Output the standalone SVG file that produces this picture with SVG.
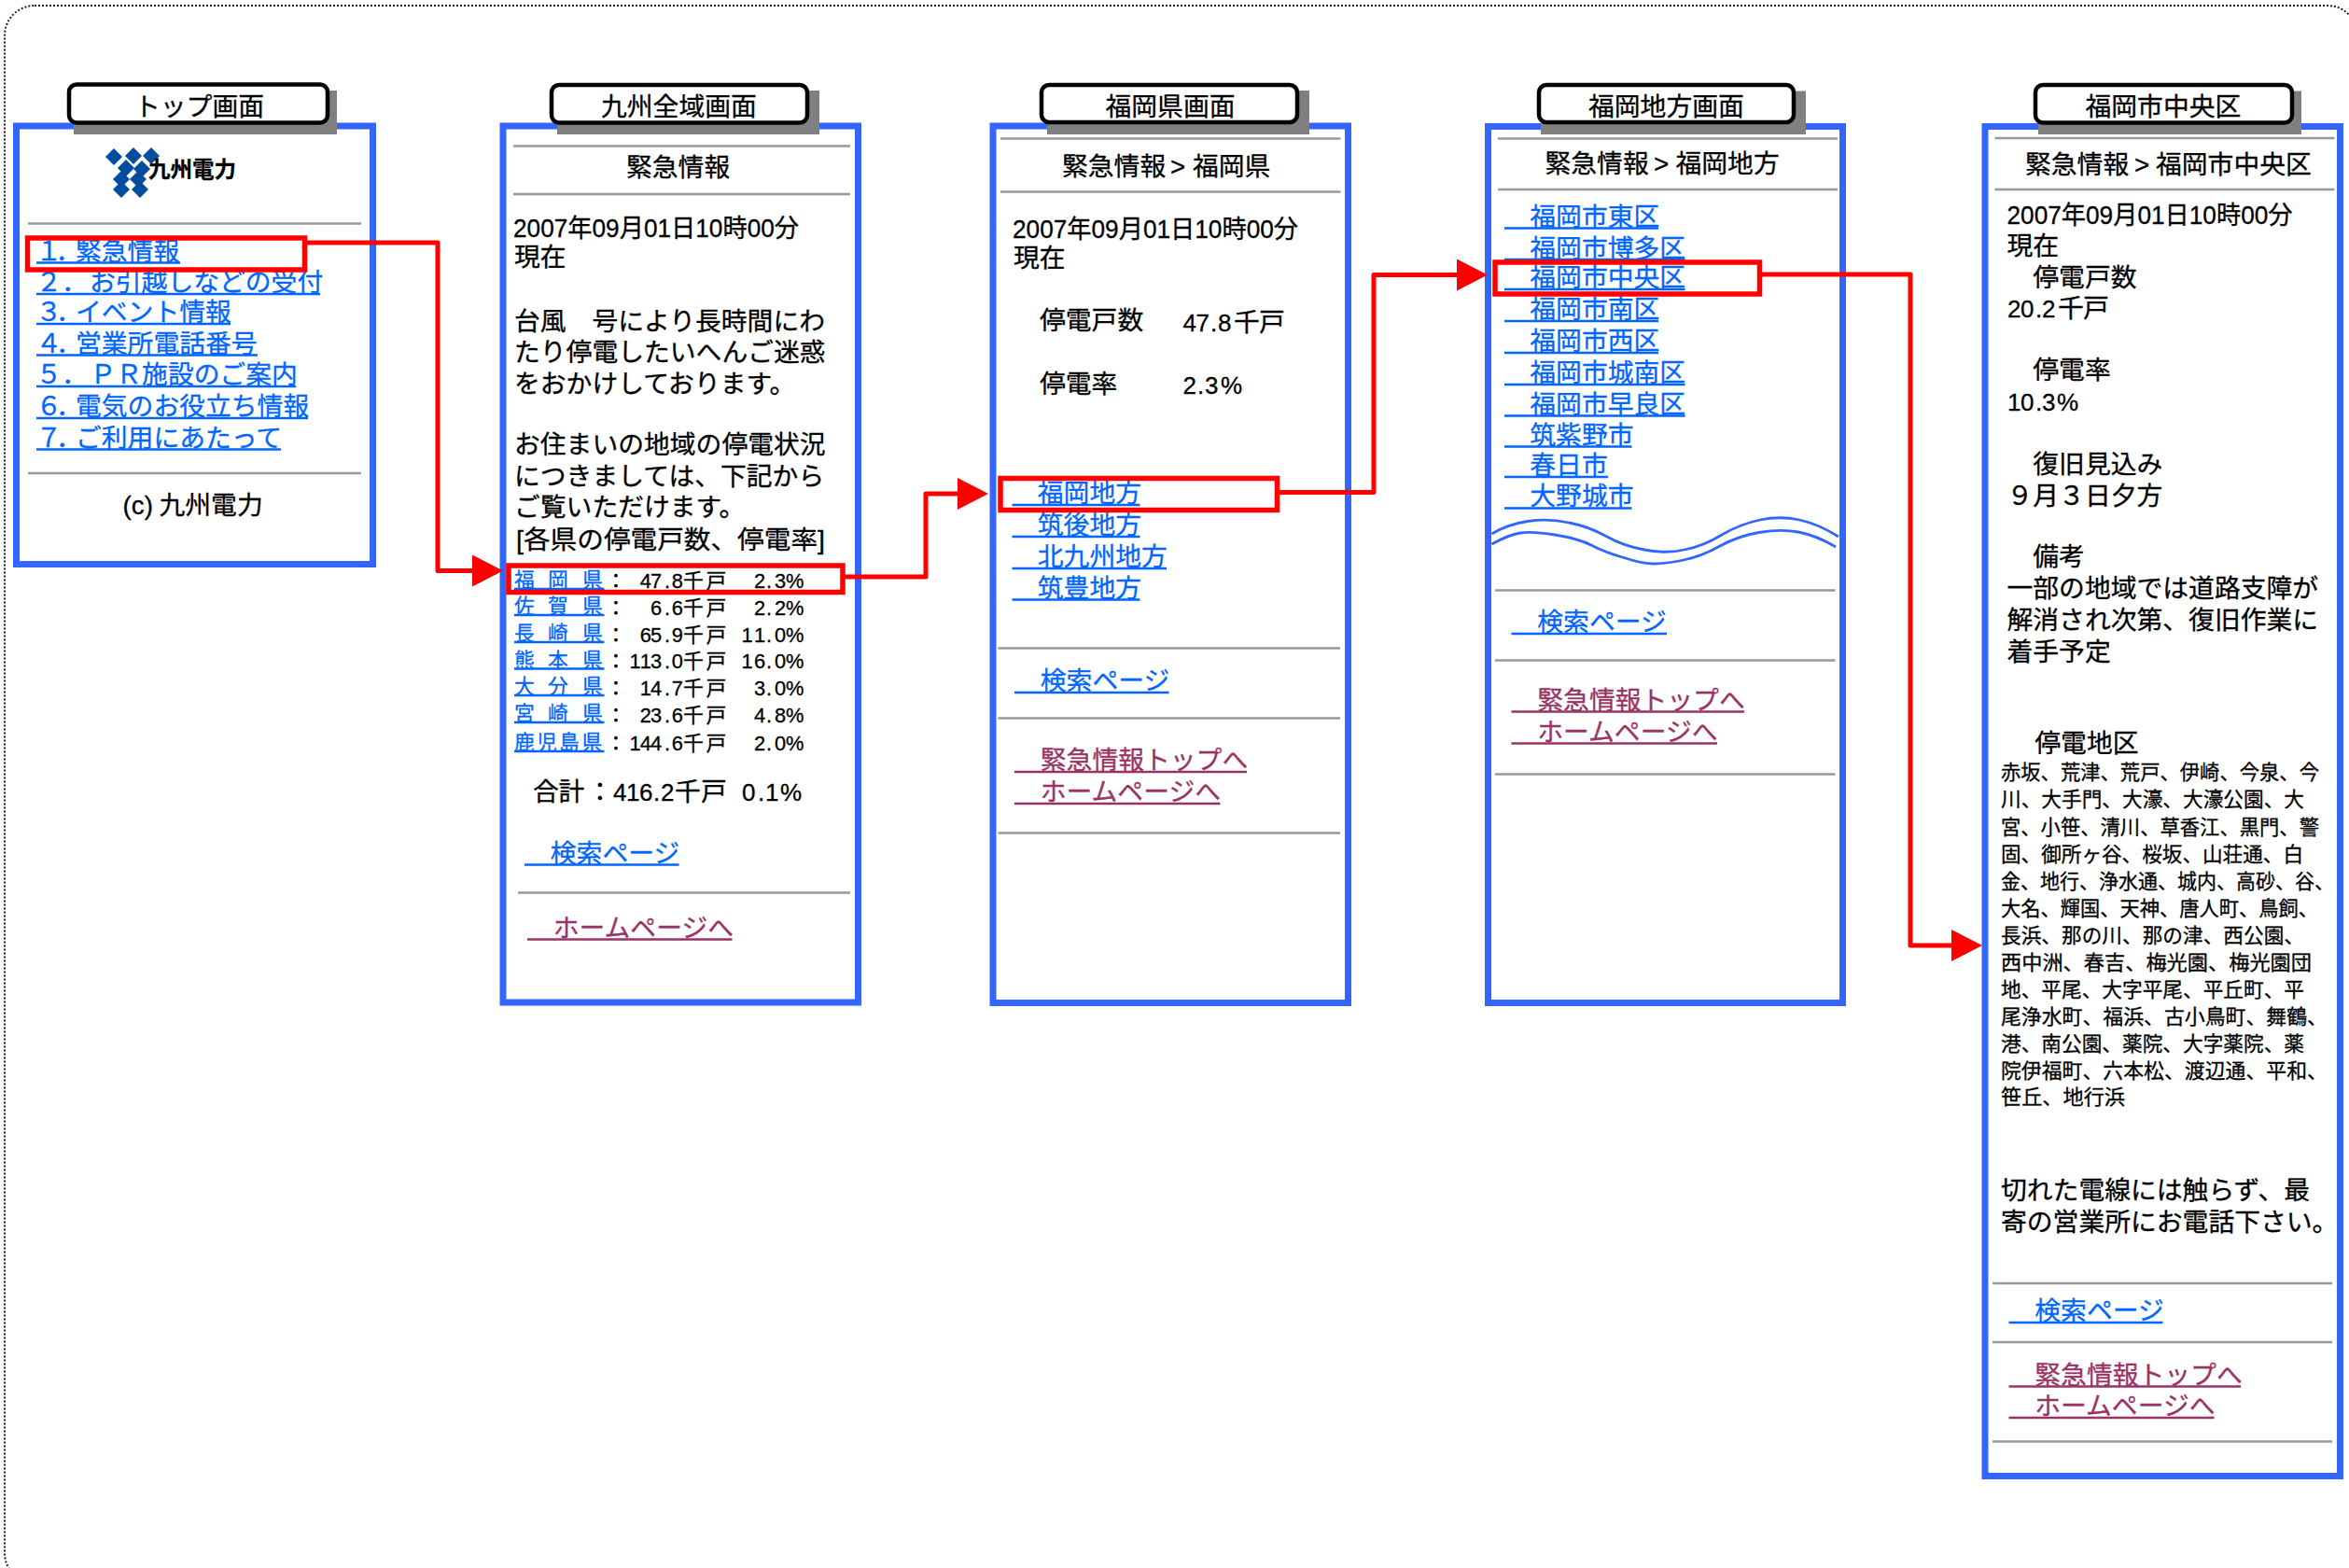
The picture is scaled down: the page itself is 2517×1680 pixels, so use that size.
<svg xmlns="http://www.w3.org/2000/svg" width="2517" height="1680" viewBox="0 0 2517 1680">
<style>
text{font-family:"Liberation Sans","Noto Sans CJK JP",sans-serif;font-size:27.8px;fill:#000;stroke:#000;stroke-width:.3}
.lnk{fill:#0066ff;stroke:#0066ff}
.vis{fill:#993366;stroke:#993366}
.s22{font-size:21.8px}
.s25{font-size:26px}
.b{font-weight:bold;font-size:23.5px}
.panel{fill:#fff;stroke:#3366ff;stroke-width:7}
.shadow{fill:#808080}
.title{fill:#fff;stroke:#000;stroke-width:4.5}
.hr{stroke:#999;stroke-width:2.5}
.ul{stroke:#0066ff;stroke-width:2.3}
.ulv{stroke:#993366;stroke-width:2.3}
.wave{fill:none;stroke:#3366ff;stroke-width:2.8;stroke-linejoin:round}
.hl{fill:none;stroke:#ff0000;stroke-width:5.5}
.conn{fill:none;stroke:#ff0000;stroke-width:5;stroke-linejoin:round;marker-end:url(#arrow)}
.logo{fill:#004c9f}
</style>
<defs>
<marker id="arrow" markerUnits="userSpaceOnUse" markerWidth="34" markerHeight="34" refX="0" refY="17" orient="auto">
<path d="M0,0 L33,17 L0,34 Z" fill="#ff0000"/>
</marker>
</defs>
<rect id="frame" x="5" y="6" width="2521" height="1690" rx="32" fill="#fff" stroke="#222" stroke-width="2" stroke-dasharray="2 2"/>

<g id="panel-top">
<rect class="panel" x="17.5" y="135" width="382" height="469.5"/>
<rect class="shadow" x="79" y="97" width="282" height="47"/>
<rect class="title" x="74" y="90.5" width="277" height="41" rx="8"/>
<text x="144" y="124" textLength="139" lengthAdjust="spacingAndGlyphs">トップ画面</text>
<polygon class="logo" points="122,159 131,168 122,177 113,168"/>
<polygon class="logo" points="143,158 152,167 143,176 134,167"/>
<polygon class="logo" points="162,158 171,167 162,176 153,167"/>
<polygon class="logo" points="135,171 144,180 135,189 126,180"/>
<polygon class="logo" points="152,172 161,181 152,190 143,181"/>
<polygon class="logo" points="130,183 139,192 130,201 121,192"/>
<polygon class="logo" points="148,183 157,192 148,201 139,192"/>
<polygon class="logo" points="130,194 139,203 130,212 121,203"/>
<polygon class="logo" points="150,194 159,203 150,212 141,203"/>
<text class="b" x="159" y="190">九州電力</text>
<line class="hr" x1="30" y1="239.5" x2="387" y2="239.5"/>
<text class="lnk" y="278.5"><tspan x="38.5">１</tspan><tspan x="59.5">．</tspan><tspan x="81">緊急情報</tspan></text>
<text class="lnk" y="312"><tspan x="38.5">２</tspan><tspan x="66">．</tspan><tspan x="96">お引越しなどの受付</tspan></text>
<text class="lnk" y="344"><tspan x="38.5">３</tspan><tspan x="60">．</tspan><tspan x="81">イベント情報</tspan></text>
<text class="lnk" y="377.5"><tspan x="38.5">４</tspan><tspan x="60">．</tspan><tspan x="81">営業所電話番号</tspan></text>
<text class="lnk" y="411"><tspan x="38.5">５</tspan><tspan x="66">．</tspan><tspan x="96.5">ＰＲ施設のご案内</tspan></text>
<text class="lnk" y="445"><tspan x="38.5">６</tspan><tspan x="60">．</tspan><tspan x="81">電気のお役立ち情報</tspan></text>
<text class="lnk" y="478.5"><tspan x="38.5">７</tspan><tspan x="60">．</tspan><tspan x="81">ご利用にあたって</tspan></text>
<line class="ul" x1="39" y1="281.5" x2="193" y2="281.5"/>
<line class="ul" x1="39" y1="315" x2="343" y2="315"/>
<line class="ul" x1="39" y1="347" x2="247" y2="347"/>
<line class="ul" x1="39" y1="380.5" x2="276" y2="380.5"/>
<line class="ul" x1="39" y1="414" x2="317" y2="414"/>
<line class="ul" x1="39" y1="448" x2="330" y2="448"/>
<line class="ul" x1="39" y1="481.5" x2="301" y2="481.5"/>
<line class="hr" x1="30" y1="507" x2="387" y2="507"/>
<text y="551"><tspan x="131.5">(c)</tspan><tspan x="170.5">九州電力</tspan></text>
</g>

<g id="panel-kyushu">
<rect class="panel" x="539" y="135" width="380.5" height="939"/>
<rect class="shadow" x="597" y="97" width="281" height="47"/>
<rect class="title" x="591" y="91" width="274" height="40.5" rx="8"/>
<text x="644" y="123.5">九州全域画面</text>
<line class="hr" x1="550" y1="156.5" x2="911" y2="156.5"/>
<text x="671" y="188.5">緊急情報</text>
<line class="hr" x1="550" y1="208" x2="911" y2="208"/>
<text x="550" y="254" textLength="306" lengthAdjust="spacingAndGlyphs">2007年09月01日10時00分</text>
<text x="551" y="285">現在</text>
<text x="551" y="354">台風　号により長時間にわ</text>
<text x="551" y="387">たり停電したいへんご迷惑</text>
<text x="551" y="421">をおかけしております。</text>
<text x="551" y="486">お住まいの地域の停電状況</text>
<text x="551" y="519.5">につきましては、下記から</text>
<text x="551" y="553">ご覧いただけます。</text>
<text x="553" y="588" textLength="331" lengthAdjust="spacingAndGlyphs">[各県の停電戸数、停電率]</text>

<text class="lnk s22" y="629" x="551 573 587 609 624">福　岡　県</text>
<text class="lnk s22" y="657" x="551 573 587 609 624">佐　賀　県</text>
<text class="lnk s22" y="686" x="551 573 587 609 624">長　崎　県</text>
<text class="lnk s22" y="714.5" x="551 573 587 609 624">熊　本　県</text>
<text class="lnk s22" y="743" x="551 573 587 609 624">大　分　県</text>
<text class="lnk s22" y="772" x="551 573 587 609 624">宮　崎　県</text>
<text class="lnk s22" y="803" x="551 575 599 623.5">鹿児島県</text>
<line class="ul" x1="551" y1="631" x2="647.5" y2="631"/>
<line class="ul" x1="551" y1="659" x2="647.5" y2="659"/>
<line class="ul" x1="551" y1="688" x2="647.5" y2="688"/>
<line class="ul" x1="551" y1="716.5" x2="647.5" y2="716.5"/>
<line class="ul" x1="551" y1="745" x2="647.5" y2="745"/>
<line class="ul" x1="551" y1="774" x2="647.5" y2="774"/>
<line class="ul" x1="551" y1="805" x2="647.5" y2="805"/>
<text class="s22" y="630" x="649 685.8 697.1 712 719.7 732 756.5 790 808 821 830 842">：47.8千戸 2.3%</text>
<text class="s22" y="658.5" x="649 697.1 712 719.7 732 756.5 790 808 821 830 842">：6.6千戸 2.2%</text>
<text class="s22" y="687.5" x="649 685.8 697.1 712 719.7 732 756.5 785 794.5 808 821 830 842">：65.9千戸 11.0%</text>
<text class="s22" y="716" x="649 674.5 685.8 697.1 712 719.7 732 756.5 785 794.5 808 821 830 842">：113.0千戸 16.0%</text>
<text class="s22" y="744.5" x="649 685.8 697.1 712 719.7 732 756.5 790 808 821 830 842">：14.7千戸 3.0%</text>
<text class="s22" y="773.5" x="649 685.8 697.1 712 719.7 732 756.5 790 808 821 830 842">：23.6千戸 4.8%</text>
<text class="s22" y="804" x="649 674.5 685.8 697.1 712 719.7 732 756.5 790 808 821 830 842">：144.6千戸 2.0%</text>
<text y="858"><tspan x="571 598.5 629">合計：</tspan><tspan class="s25" x="657 671 685 700 708">416.2</tspan><tspan x="723 751">千戸</tspan><tspan class="s25" x="780 795 812 820 836"> 0.1%</tspan></text>
<text class="lnk" x="562" y="923.5">　検索ページ</text>
<line class="ul" x1="562" y1="926.5" x2="727.5" y2="926.5"/>
<line class="hr" x1="555" y1="956.5" x2="911" y2="956.5"/>
<text class="vis" x="565" y="1003.5">　ホームページへ</text>
<line class="ulv" x1="565" y1="1006.5" x2="784.5" y2="1006.5"/>
</g>

<g id="panel-fukuoka-pref">
<rect class="panel" x="1064" y="135" width="380.5" height="939.5"/>
<rect class="shadow" x="1122" y="97" width="281" height="47"/>
<rect class="title" x="1116" y="91" width="274" height="40" rx="8"/>
<text x="1184.5" y="123.5">福岡県画面</text>
<line class="hr" x1="1072" y1="148.5" x2="1436.5" y2="148.5"/>
<text y="188"><tspan x="1138">緊急情報</tspan><tspan x="1254">&gt;</tspan><tspan x="1278">福岡県</tspan></text>
<line class="hr" x1="1072" y1="205.5" x2="1436.5" y2="205.5"/>
<text x="1085" y="255" textLength="306" lengthAdjust="spacingAndGlyphs">2007年09月01日10時00分</text>
<text x="1086" y="285.5">現在</text>
<text x="1114" y="353">停電戸数</text>
<text y="354.5"><tspan class="s25" x="1267.5 1281.5 1297 1305">47.8</tspan><tspan x="1322 1349">千戸</tspan></text>
<text x="1114" y="421">停電率</text>
<text class="s25" y="422" x="1267.5 1283 1291 1308">2.3%</text>
<text class="lnk" x="1084" y="538">　福岡地方</text>
<text class="lnk" x="1084" y="572">　筑後地方</text>
<text class="lnk" x="1084" y="606">　北九州地方</text>
<text class="lnk" x="1084" y="640">　筑豊地方</text>
<line class="ul" x1="1084.5" y1="541" x2="1221.5" y2="541"/>
<line class="ul" x1="1084.5" y1="575" x2="1221.5" y2="575"/>
<line class="ul" x1="1084.5" y1="609" x2="1250" y2="609"/>
<line class="ul" x1="1084.5" y1="642.5" x2="1221.5" y2="642.5"/>
<line class="hr" x1="1069.5" y1="694.5" x2="1436" y2="694.5"/>
<text class="lnk" x="1087" y="739">　検索ページ</text>
<line class="ul" x1="1087" y1="742" x2="1252.5" y2="742"/>
<line class="hr" x1="1069.5" y1="769.5" x2="1436" y2="769.5"/>
<text class="vis" x="1087" y="824">　緊急情報トップへ</text>
<line class="ulv" x1="1087" y1="827" x2="1336" y2="827"/>
<text class="vis" x="1087" y="858">　ホームページへ</text>
<line class="ulv" x1="1087" y1="861" x2="1307.5" y2="861"/>
<line class="hr" x1="1069.5" y1="892.5" x2="1436" y2="892.5"/>
</g>

<g id="panel-fukuoka-region">
<rect class="panel" x="1594.5" y="135.5" width="380" height="939"/>
<rect class="shadow" x="1651" y="97.5" width="284" height="46.5"/>
<rect class="title" x="1649" y="91" width="273" height="40" rx="8"/>
<text x="1702" y="123.5">福岡地方画面</text>
<line class="hr" x1="1605" y1="148.5" x2="1969" y2="148.5"/>
<text y="185"><tspan x="1655.5">緊急情報</tspan><tspan x="1772">&gt;</tspan><tspan x="1795.5">福岡地方</tspan></text>
<line class="hr" x1="1605" y1="203" x2="1969" y2="203"/>
<text class="lnk" x="1611.5" y="241.5">　福岡市東区</text>
<text class="lnk" x="1611.5" y="275.5">　福岡市博多区</text>
<text class="lnk" x="1611.5" y="307">　福岡市中央区</text>
<text class="lnk" x="1611.5" y="341">　福岡市南区</text>
<text class="lnk" x="1611.5" y="375">　福岡市西区</text>
<text class="lnk" x="1611.5" y="409">　福岡市城南区</text>
<text class="lnk" x="1611.5" y="442.5">　福岡市早良区</text>
<text class="lnk" x="1611.5" y="475.5">　筑紫野市</text>
<text class="lnk" x="1611.5" y="507.5">　春日市</text>
<text class="lnk" x="1611.5" y="541">　大野城市</text>
<line class="ul" x1="1612" y1="244.5" x2="1777" y2="244.5"/>
<line class="ul" x1="1612" y1="278" x2="1805.5" y2="278"/>
<line class="ul" x1="1612" y1="310" x2="1805.5" y2="310"/>
<line class="ul" x1="1612" y1="344" x2="1777" y2="344"/>
<line class="ul" x1="1612" y1="378" x2="1777" y2="378"/>
<line class="ul" x1="1612" y1="412" x2="1805.5" y2="412"/>
<line class="ul" x1="1612" y1="445.5" x2="1805.5" y2="445.5"/>
<line class="ul" x1="1612" y1="478.5" x2="1748.5" y2="478.5"/>
<line class="ul" x1="1612" y1="511" x2="1723" y2="511"/>
<line class="ul" x1="1612" y1="544.5" x2="1748.5" y2="544.5"/>
<path class="wave" d="M1598.5,572 Q1614.5,562 1637,558.5 Q1659.5,555 1681,560 Q1702,564 1721,574.5 Q1739.5,585 1762,589 Q1784.5,593.5 1805,589 Q1825.5,585 1845,573 Q1864.5,561.5 1886,557 Q1907.5,552.5 1928,557 Q1948.5,561.5 1970,575"/>
<path class="wave" d="M1598.5,583 Q1616.5,573 1629,571 Q1641.5,569 1666,573 Q1691.5,577 1706,584.5 Q1720,592 1740,597.5 Q1759.5,604 1772,604 Q1784.5,604 1804,600 Q1823.5,596 1843,585 Q1863,574 1885,570.5 Q1907.5,566.5 1927,570 Q1947,574 1967,586"/>
<line class="hr" x1="1602" y1="632.5" x2="1966.5" y2="632.5"/>
<text class="lnk" x="1619.5" y="676">　検索ページ</text>
<line class="ul" x1="1619.5" y1="679" x2="1786" y2="679"/>
<line class="hr" x1="1602" y1="707.5" x2="1966.5" y2="707.5"/>
<text class="vis" x="1619.5" y="759.5">　緊急情報トップへ</text>
<line class="ulv" x1="1619.5" y1="762.5" x2="1869" y2="762.5"/>
<text class="vis" x="1619.5" y="793.5">　ホームページへ</text>
<line class="ulv" x1="1619.5" y1="796.5" x2="1840" y2="796.5"/>
<line class="hr" x1="1602" y1="829.5" x2="1966.5" y2="829.5"/>
</g>

<g id="panel-chuo">
<rect class="panel" x="2127" y="135.5" width="380.5" height="1446"/>
<rect class="shadow" x="2184" y="97.5" width="282" height="46.5"/>
<rect class="title" x="2181" y="91" width="275" height="40.5" rx="8"/>
<text x="2234.5" y="123.5">福岡市中央区</text>
<line class="hr" x1="2137.5" y1="148" x2="2501.5" y2="148"/>
<text y="185.5"><tspan x="2170">緊急情報</tspan><tspan x="2287">&gt;</tspan><tspan x="2310">福岡市中央区</tspan></text>
<line class="hr" x1="2137.5" y1="203" x2="2501.5" y2="203"/>
<text x="2150.5" y="240" textLength="306" lengthAdjust="spacingAndGlyphs">2007年09月01日10時00分</text>
<text x="2150.5" y="273">現在</text>
<text x="2150.5" y="306.5">　停電戸数</text>
<text y="340"><tspan class="s25" x="2151 2165 2181 2188">20.2</tspan><tspan x="2205 2232">千戸</tspan></text>
<text x="2150.5" y="405.5">　停電率</text>
<text class="s25" y="440" x="2151 2165 2181 2188 2204">10.3%</text>
<text x="2150.5" y="506.5">　復旧見込み</text>
<text x="2150.5" y="540.5">９月３日夕方</text>
<text x="2150.5" y="606">　備考</text>
<text x="2150.5" y="639.5">一部の地域では道路支障が</text>
<text x="2150.5" y="673.5">解消され次第、復旧作業に</text>
<text x="2150.5" y="708">着手予定</text>
<text x="2152.5" y="806">　停電地区</text>
<text class="s22" x="2144" y="834.5" textLength="341" lengthAdjust="spacingAndGlyphs">赤坂、荒津、荒戸、伊崎、今泉、今</text>
<text class="s22" x="2144" y="863.5" textLength="325" lengthAdjust="spacingAndGlyphs">川、大手門、大濠、大濠公園、大</text>
<text class="s22" x="2144" y="894" textLength="341" lengthAdjust="spacingAndGlyphs">宮、小笹、清川、草香江、黒門、警</text>
<text class="s22" x="2144" y="922.5" textLength="324" lengthAdjust="spacingAndGlyphs">固、御所ヶ谷、桜坂、山荘通、白</text>
<text class="s22" x="2144" y="951.5" textLength="357" lengthAdjust="spacingAndGlyphs">金、地行、浄水通、城内、高砂、谷、</text>
<text class="s22" x="2144" y="980.5" textLength="340" lengthAdjust="spacingAndGlyphs">大名、輝国、天神、唐人町、鳥飼、</text>
<text class="s22" x="2144" y="1009.5" textLength="325" lengthAdjust="spacingAndGlyphs">長浜、那の川、那の津、西公園、</text>
<text class="s22" x="2144" y="1038.5" textLength="333" lengthAdjust="spacingAndGlyphs">西中洲、春吉、梅光園、梅光園団</text>
<text class="s22" x="2144" y="1068" textLength="325" lengthAdjust="spacingAndGlyphs">地、平尾、大字平尾、平丘町、平</text>
<text class="s22" x="2144" y="1096.5" textLength="350" lengthAdjust="spacingAndGlyphs">尾浄水町、福浜、古小鳥町、舞鶴、</text>
<text class="s22" x="2144" y="1125.5" textLength="325" lengthAdjust="spacingAndGlyphs">港、南公園、薬院、大字薬院、薬</text>
<text class="s22" x="2144" y="1154.5" textLength="350" lengthAdjust="spacingAndGlyphs">院伊福町、六本松、渡辺通、平和、</text>
<text class="s22" x="2144" y="1183" textLength="133" lengthAdjust="spacingAndGlyphs">笹丘、地行浜</text>
<text x="2144" y="1284.5">切れた電線には触らず、最</text>
<text x="2144" y="1319">寄の営業所にお電話下さい。</text>
<line class="hr" x1="2135" y1="1375" x2="2499" y2="1375"/>
<text class="lnk" x="2152.5" y="1414">　検索ページ</text>
<line class="ul" x1="2152.5" y1="1417" x2="2317.5" y2="1417"/>
<line class="hr" x1="2135" y1="1438" x2="2499" y2="1438"/>
<text class="vis" x="2152.5" y="1482.5">　緊急情報トップへ</text>
<line class="ulv" x1="2152.5" y1="1485.5" x2="2401" y2="1485.5"/>
<text class="vis" x="2152.5" y="1516">　ホームページへ</text>
<line class="ulv" x1="2152.5" y1="1519" x2="2372.5" y2="1519"/>
<line class="hr" x1="2135" y1="1544.5" x2="2499" y2="1544.5"/>
</g>

<g id="connectors">
<rect class="hl" x="29.5" y="255" width="297" height="34"/>
<rect class="hl" x="545" y="606" width="358" height="28.5"/>
<rect class="hl" x="1072" y="512.5" width="296.5" height="34"/>
<rect class="hl" x="1602" y="281" width="283.5" height="34"/>
<path class="conn" d="M329,260 H469 V611.5 H506"/>
<path class="conn" d="M905,618 H992 V529 H1026"/>
<path class="conn" d="M1371,527.5 H1472 V294.5 H1561"/>
<path class="conn" d="M1888,294 H2047 V1013 H2091"/>
</g>
</svg>
